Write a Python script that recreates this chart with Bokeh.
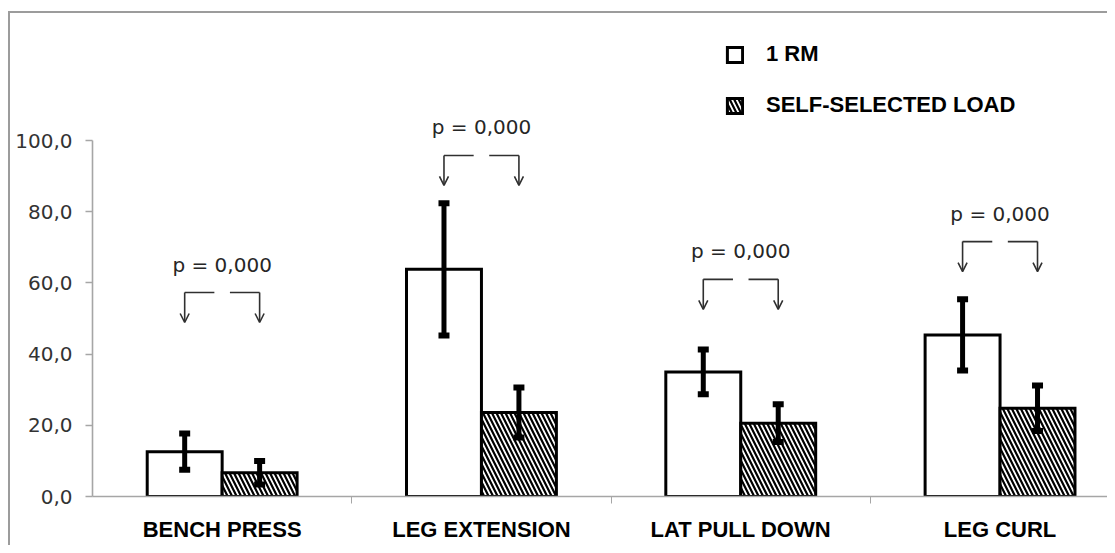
from bokeh.plotting import figure
from bokeh.models import (ColumnDataSource, Range1d, FixedTicker, Whisker, TeeHead,
                          Arrow, OpenHead, Legend, LegendItem)
from bokeh.core.properties import value
from bokeh.embed import file_html
from bokeh.resources import INLINE

# ---------------- data ----------------
exercises = ["BENCH PRESS", "LEG EXTENSION", "LAT PULL DOWN", "LEG CURL"]
rm_mean = [12.6, 63.8, 35.0, 45.4]
rm_sd = [5.1, 18.6, 6.3, 10.0]
ssl_mean = [6.7, 23.6, 20.6, 24.8]
ssl_sd = [3.3, 7.0, 5.3, 6.4]
series_labels = ["1 RM", "SELF-SELECTED LOAD"]
p_text = ["p = 0,000", "p = 0,000", "p = 0,000", "p = 0,000"]
p_level = [57.3, 95.8, 61.0, 71.6]
ytick_vals = [0, 20, 40, 60, 80, 100]
ytick_labels = ["0,0", "20,0", "40,0", "60,0", "80,0", "100,0"]

# ---------------- layout ----------------
PX_PER_UNIT = 3.56
CAT_PX = 259.3
FRAME_W, FRAME_H = 1015, 483
BAR_W = 0.289
OFF = BAR_W / 2

n = len(exercises)
centers = [i + 0.5 for i in range(n)]

p = figure(width=1097, height=532, output_backend="svg", toolbar_location=None,
           frame_width=FRAME_W, frame_height=FRAME_H,
           x_range=Range1d(0, FRAME_W / CAT_PX), y_range=Range1d(0, FRAME_H / PX_PER_UNIT),
           min_border_left=82, min_border_right=0, min_border_top=0, min_border_bottom=49)
p.styles = {"border-left": "2px solid #9c9c9c", "border-top": "2px solid #9c9c9c",
            "margin-left": "8px", "margin-top": "11px"}
p.outline_line_color = None
p.xgrid.visible = False
p.ygrid.visible = False
p.background_fill_color = "white"
p.border_fill_color = "white"

rm_src = ColumnDataSource(dict(
    x=[c - OFF for c in centers], top=rm_mean,
    upper=[m + s for m, s in zip(rm_mean, rm_sd)],
    lower=[m - s for m, s in zip(rm_mean, rm_sd)]))
ssl_src = ColumnDataSource(dict(
    x=[c + OFF for c in centers], top=ssl_mean,
    upper=[m + s for m, s in zip(ssl_mean, ssl_sd)],
    lower=[m - s for m, s in zip(ssl_mean, ssl_sd)]))

r1 = p.vbar(x="x", top="top", bottom=0, width=BAR_W, source=rm_src,
            fill_color="white", line_color="black", line_width=3, line_join="miter")
r2 = p.vbar(x="x", top="top", bottom=0, width=BAR_W, source=ssl_src,
            fill_color="white", line_color="black", line_width=3, line_join="miter",
            hatch_pattern="left_diagonal_line", hatch_color="black",
            hatch_weight=2.2, hatch_scale=9)

for src in (rm_src, ssl_src):
    w = Whisker(source=src, base="x", upper="upper", lower="lower",
                line_color="black", line_width=5,
                upper_head=TeeHead(size=11, line_width=6, line_color="black"),
                lower_head=TeeHead(size=11, line_width=6, line_color="black"),
                level="overlay")
    p.add_layout(w)

# p-value annotations with elbow arrows
arrow_len = 30 / PX_PER_UNIT
gap = 0.03
p.text(x=centers, y=[l + 28 / PX_PER_UNIT for l in p_level], text=p_text,
       text_align="center", text_baseline="middle",
       text_font=value("DejaVu Sans"), text_font_size="20px", text_color="#262626")
p.segment(x0=[c - OFF for c in centers] + [c + gap for c in centers],
          y0=p_level + p_level,
          x1=[c - gap for c in centers] + [c + OFF for c in centers],
          y1=p_level + p_level, line_color="#303030", line_width=1.6)
arr_src = ColumnDataSource(dict(
    xs=[c - OFF for c in centers] + [c + OFF for c in centers],
    ys=p_level + p_level,
    ye=[l - arrow_len for l in p_level] * 2))
p.add_layout(Arrow(source=arr_src, x_start="xs", y_start="ys", x_end="xs", y_end="ye",
                   line_color="#303030", line_width=1.6,
                   end=OpenHead(size=9, line_color="#303030", line_width=1.6)))

# axes
xa = p.xaxis[0]
xa.ticker = FixedTicker(ticks=centers, minor_ticks=[1, 2, 3])
xa.major_label_overrides = {c: lab for c, lab in zip(centers, exercises)}
xa.major_tick_line_color = None
xa.major_tick_out = 0
xa.major_tick_in = 0
xa.minor_tick_line_color = "#a6a6a6"
xa.minor_tick_out = 7
xa.minor_tick_in = 0
xa.axis_line_color = "#a6a6a6"
xa.axis_line_width = 1.6
xa.major_label_text_font = "Liberation Sans"
xa.major_label_text_font_style = "bold"
xa.major_label_text_font_size = "22px"
xa.major_label_text_color = "black"
xa.major_label_standoff = 13

ya = p.yaxis[0]
ya.ticker = FixedTicker(ticks=ytick_vals, minor_ticks=[])
ya.major_label_overrides = {v: lab for v, lab in zip(ytick_vals, ytick_labels)}
ya.bounds = (0, 100)
ya.axis_line_color = "#a6a6a6"
ya.axis_line_width = 1.6
ya.major_tick_line_color = "#a6a6a6"
ya.major_tick_line_width = 1.6
ya.major_tick_out = 7
ya.major_tick_in = 0
ya.minor_tick_line_color = None
ya.major_label_text_font = "DejaVu Sans"
ya.major_label_text_font_size = "20px"
ya.major_label_text_color = "#333333"
ya.major_label_standoff = 13

legend = Legend(items=[LegendItem(label=series_labels[0], renderers=[r1]),
                       LegendItem(label=series_labels[1], renderers=[r2])],
                location=(633, 378), orientation="vertical",
                glyph_width=19, glyph_height=19, label_height=19,
                spacing=25, padding=0, margin=0, label_standoff=22,
                border_line_color=None, background_fill_alpha=0,
                label_text_font="Liberation Sans", label_text_font_style="bold",
                label_text_font_size="22px", label_text_color="black")
p.add_layout(legend)

open("out.html", "w").write(file_html(p, INLINE))
